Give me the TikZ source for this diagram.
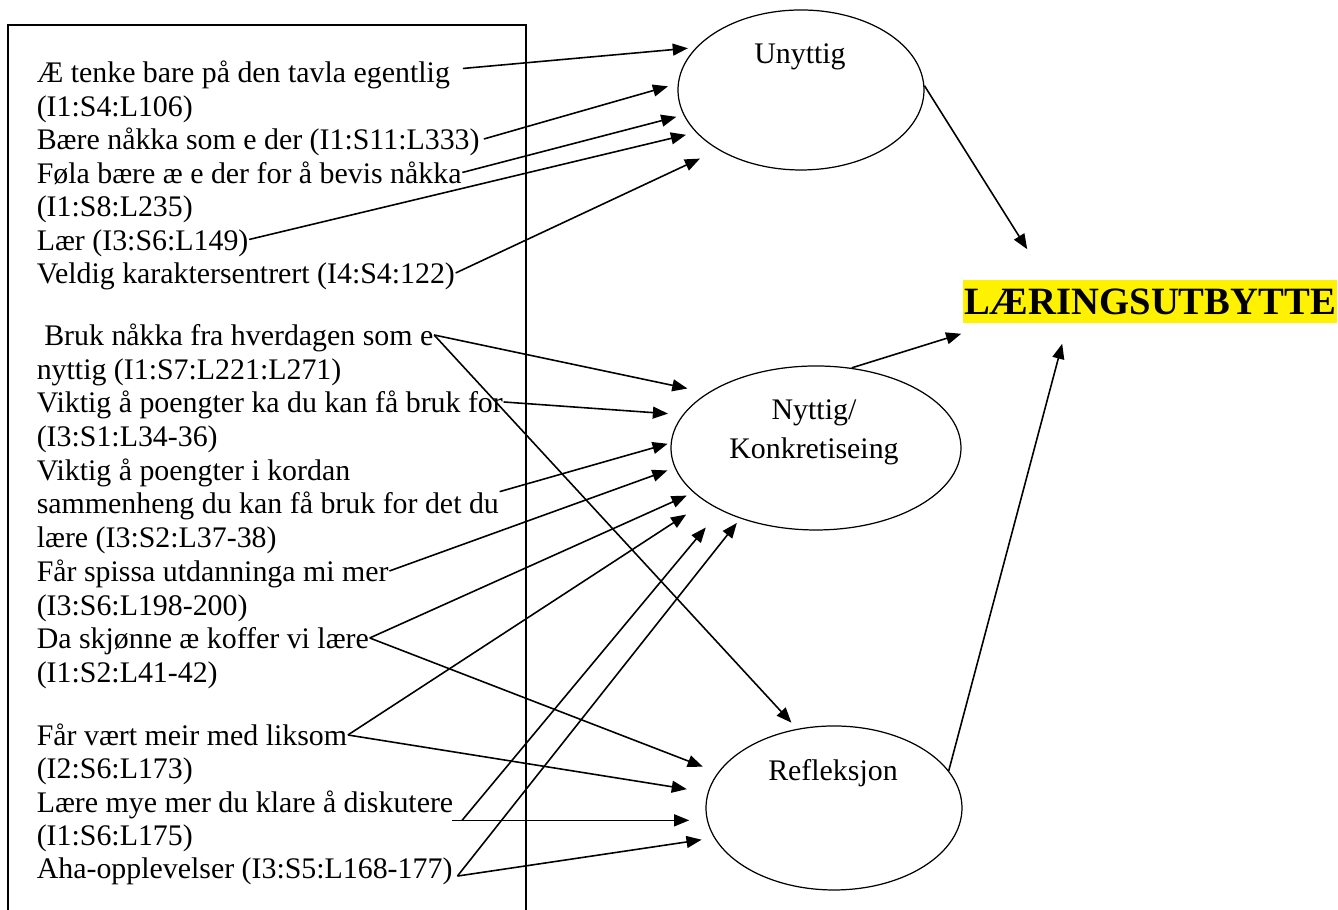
\documentclass[tikz,border=0pt]{standalone}
\usepackage{fontspec}
\setmainfont{Liberation Serif}
\usetikzlibrary{arrows.meta,shapes.geometric}

\begin{document}
\begin{tikzpicture}[line width=0.45pt, >={Triangle[length=4.3pt,width=3.4pt]},
  quote/.style={anchor=west, inner sep=0pt, text height=6pt, text depth=0pt,
    font=\fontsize{8.5}{10}\selectfont},
  oval/.style={ellipse, draw, line width=0.35pt, inner sep=0pt},
  ovaltext/.style={inner sep=0pt, align=center, font=\fontsize{8.5}{11.1}\selectfont}]
\useasboundingbox (0,0) rectangle (13.38,9.10);

\draw (0.08,0) -- (0.08,8.85) -- (5.26,8.85) -- (5.26,0);

\node[quote] (a1) at (0.36,8.38) {Æ tenke bare på den tavla egentlig};
\node[quote] (a2) at (0.36,8.045) {(I1:S4:L106)};
\node[quote] (a3) at (0.36,7.71) {Bære nåkka som e der (I1:S11:L333)};
\node[quote] (a4) at (0.36,7.375) {Føla bære æ e der for å bevis nåkka};
\node[quote] (a5) at (0.36,7.04) {(I1:S8:L235)};
\node[quote] (a6) at (0.36,6.705) {Lær (I3:S6:L149)};
\node[quote] (a7) at (0.36,6.37) {Veldig karaktersentrert (I4:S4:122)};

\node[quote] (b1) at (0.435,5.75) {Bruk nåkka fra hverdagen som e};
\node[quote] (b2) at (0.36,5.41) {nyttig (I1:S7:L221:L271)};
\node[quote] (b3) at (0.36,5.08) {Viktig å poengter ka du kan få bruk for};
\node[quote] (b4) at (0.36,4.74) {(I3:S1:L34-36)};
\node[quote] (b5) at (0.36,4.40) {Viktig å poengter i kordan};
\node[quote] (b6) at (0.36,4.07) {sammenheng du kan få bruk for det du};
\node[quote] (b7) at (0.36,3.73) {lære (I3:S2:L37-38)};
\node[quote] (b8) at (0.36,3.39) {Får spissa utdanninga mi mer};
\node[quote] (b9) at (0.36,3.05) {(I3:S6:L198-200)};
\node[quote] (b10) at (0.36,2.72) {Da skjønne æ koffer vi lære};
\node[quote] (b11) at (0.36,2.38) {(I1:S2:L41-42)};

\node[quote] (c1) at (0.36,1.75) {Får vært meir med liksom};
\node[quote] (c2) at (0.36,1.42) {(I2:S6:L173)};
\node[quote] (c3) at (0.36,1.08) {Lære mye mer du klare å diskutere};
\node[quote] (c4) at (0.36,0.75) {(I1:S6:L175)};
\node[quote] (c5) at (0.36,0.42) {Aha-opplevelser (I3:S5:L168-177)};

\coordinate (lv) at ([shift={(2.3pt,-2pt)}]c3.south east);
\coordinate (av) at ([shift={(1.2pt,-2.3pt)}]c5.east);

\node[oval, minimum width=2.46cm, minimum height=1.60cm] (unyttig) at (8.01,8.20) {};
\node[oval, minimum width=2.90cm, minimum height=1.64cm] (nyttig) at (8.16,4.62) {};
\node[oval, minimum width=2.56cm, minimum height=1.64cm] (refleksjon) at (8.34,1.02) {};

\node[ovaltext] (unyttigtxt) at (8.00,8.53) {Unyttig};
\node[ovaltext] (nyttigtxt) at (8.14,4.775) {Nyttig/\\Konkretiseing};
\node[ovaltext] (refleksjontxt) at (8.33,1.37) {Refleksjon};

\node[fill=yellow, minimum width=3.74cm, minimum height=0.43cm, inner sep=0pt,
  font=\fontsize{11}{13}\selectfont\bfseries] (lu) at (11.50,6.085) {LÆRINGSUTBYTTE};

\draw[->, shorten >=2.3pt] ([xshift=3.5pt,yshift=1pt]a1.east) -- (unyttig.158.7);
\draw[->, shorten >=2.9pt] ([xshift=1pt]a3.east) -- (unyttig.177.8);
\draw[->, shorten >=2.1pt] (a4.east) -- (unyttig.192.3);
\draw[->, shorten >=2.9pt] (a6.east) -- (unyttig.202.6);
\draw[->, shorten >=5.8pt] (a7.east) -- (unyttig.216.3);

\draw[->, shorten >=5.9pt] (b1.east) -- (nyttig.153.8);
\draw[->, shorten >=4.2pt] (b3.east) -- (nyttig.166.7);
\draw[->, shorten >=0.9pt] (b6.north east) -- (nyttig.178.8);
\draw[->, shorten >=2.2pt] (b8.east) -- (nyttig.188.5);
\draw[->, shorten >=2.1pt] (b10.east) -- (nyttig.200);
\draw[->, shorten >=6.6pt] (c1.east) -- (nyttig.206.7);
\draw[->, shorten >=6.4pt] (lv) -- (nyttig.213);
\draw[->, shorten >=1.6pt] (av) -- (nyttig.223.1);

\draw[->, shorten >=2.4pt] (b1.east) -- (refleksjon.115.5);
\draw[->, shorten >=4.6pt] (b10.east) -- (refleksjon.163);
\draw[->, shorten >=6pt] (c1.east) -- (refleksjon.173.8);
\draw[->, shorten >=4.6pt] ([xshift=-2.8pt]lv) -- (lv -| refleksjon.west);
\draw[->, shorten >=3.6pt] (av) -- (refleksjon.194.6);

\draw[->] (unyttig.2) -- ([shift={(0.65,0.30)}]lu.north west);
\draw[->] (nyttig.66) -- ([shift={(-0.01,-0.10)}]lu.south west);
\draw[->] (refleksjon.18) -- ([shift={(1.00,-0.20)}]lu.south west);

\end{tikzpicture}
\end{document}
